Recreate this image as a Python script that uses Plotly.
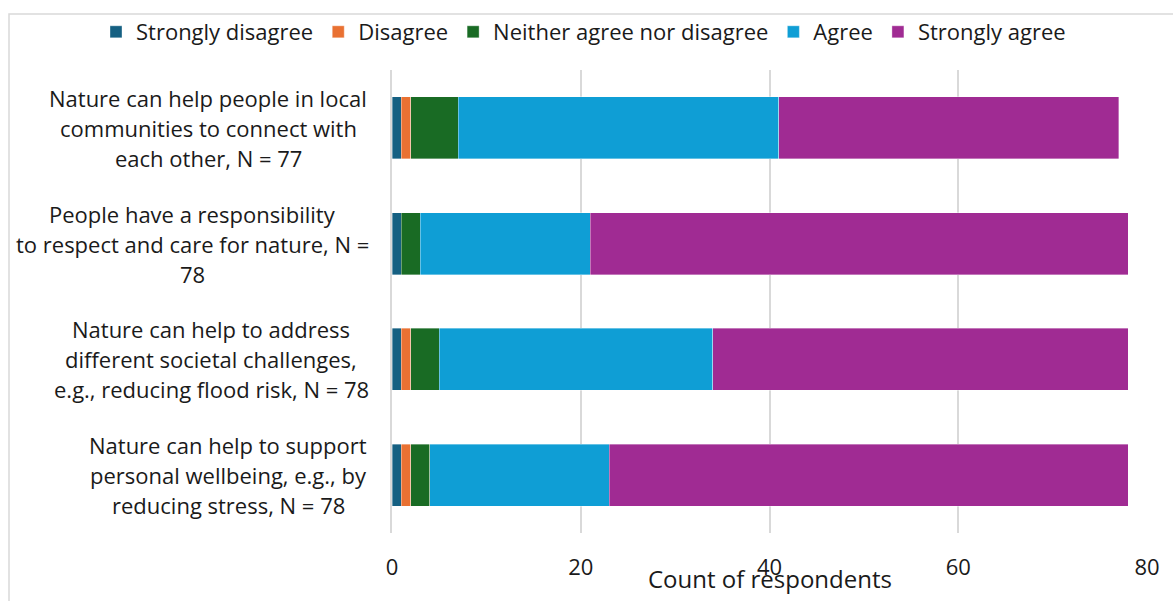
import plotly.graph_objects as go

# Survey statements (top to bottom) and response counts
statements = [
    "Nature can help people in local<br>communities to connect with<br>each other, N = 77",
    "People have a responsibility<br>to respect and care for nature, N =<br>78",
    "Nature can help to address<br>different societal challenges,<br>e.g., reducing flood risk, N = 78",
    "Nature can help to support<br>personal wellbeing, e.g., by<br>reducing stress, N = 78",
]
strongly_disagree = [1, 1, 1, 1]
disagree = [1, 0, 1, 1]
neither = [5, 2, 3, 2]
agree = [34, 18, 29, 19]
strongly_agree = [36, 57, 44, 55]

x_ticks = [0, 20, 40, 60, 80]

series = [
    ("Strongly disagree", strongly_disagree, "#156082"),
    ("Disagree", disagree, "#E97132"),
    ("Neither agree nor disagree", neither, "#196B24"),
    ("Agree", agree, "#0F9ED5"),
    ("Strongly agree", strongly_agree, "#A02B93"),
]

FONT = "Open Sans"
TEXT = "#1a1a1a"
FS = 22

fig = go.Figure()
for name, vals, color in series:
    fig.add_trace(go.Bar(
        y=statements, x=vals, name=name, orientation="h",
        marker=dict(color=color, line=dict(color="rgba(255,255,255,0.6)", width=0.6)),
    ))

W, H = 1173, 601
L, R, T, B = 392, 26, 69, 68
plot_w = W - L - R
plot_h = H - T - B

# Multi-line statement labels, each line centred within its block
annotations = []
block_centres = [208, 192, 211, 228]
line_gap = 30
for s, cx in zip(statements, block_centres):
    lines = s.split("<br>")
    n = len(lines)
    for i, ln in enumerate(lines):
        annotations.append(dict(
            xref="paper", yref="y", x=0, y=s, text=ln, showarrow=False,
            xanchor="center", yanchor="middle",
            xshift=cx - L, yshift=((n - 1) / 2 - i) * line_gap,
            font=dict(family=FONT, size=FS, color=TEXT),
        ))

# Axis title sits just under the tick labels
annotations.append(dict(
    xref="paper", yref="paper", x=0.5, y=0, yshift=-(578 - (H - B)),
    text="Count of respondents", showarrow=False,
    xanchor="center", yanchor="middle",
    font=dict(family=FONT, size=24, color=TEXT),
))

# Light outer frame
frame = dict(
    type="rect", xref="paper", yref="paper",
    x0=(9 - L) / plot_w, x1=(W + 20 - L) / plot_w,
    y0=-(H + 20 - (H - B)) / plot_h, y1=((H - B) - 13) / plot_h,
    line=dict(color="#d9d9d9", width=1.5), layer="below",
)

fig.update_layout(
    width=W, height=H,
    margin=dict(l=L, r=R, t=T, b=B),
    barmode="stack", bargap=0.466,
    plot_bgcolor="white", paper_bgcolor="white",
    font=dict(family=FONT, size=FS, color=TEXT),
    showlegend=True,
    legend=dict(
        orientation="h", x=(96 - L) / plot_w, xanchor="left",
        y=((H - B) - 32) / plot_h, yanchor="middle",
        font=dict(family=FONT, size=FS, color=TEXT),
        traceorder="normal", bgcolor="rgba(0,0,0,0)",
    ),
    xaxis=dict(
        range=[0, 80], tickvals=x_ticks, showgrid=True,
        gridcolor="#d9d9d9", gridwidth=1.5, zeroline=False,
        showline=False, ticks="", tickfont=dict(family=FONT, size=FS, color=TEXT),
        ticklabelstandoff=19,
    ),
    yaxis=dict(
        autorange="reversed", showticklabels=False, showgrid=False,
        showline=True, linecolor="#d9d9d9", linewidth=2, ticks="",
    ),
    annotations=annotations,
    shapes=[frame],
)

fig.write_html("out.html")
